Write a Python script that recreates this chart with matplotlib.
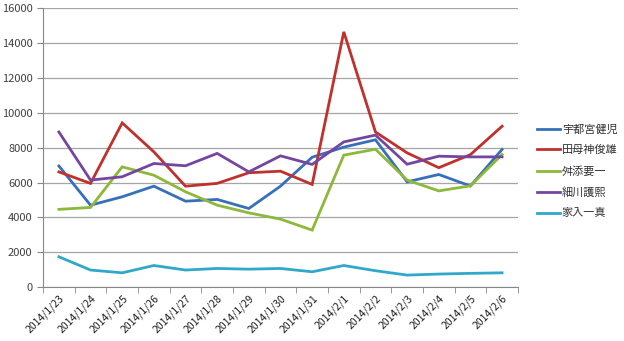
import matplotlib
matplotlib.use('Agg')
import numpy as np
from matplotlib import pyplot as plt
from matplotlib.ticker import FixedLocator, NullFormatter

plt.rcParams['font.family'] = ['Noto Sans CJK JP', 'DejaVu Sans']

dates = ['2014/1/23', '2014/1/24', '2014/1/25', '2014/1/26', '2014/1/27',
         '2014/1/28', '2014/1/29', '2014/1/30', '2014/1/31', '2014/2/1',
         '2014/2/2', '2014/2/3', '2014/2/4', '2014/2/5', '2014/2/6']
names = ['宇都宮健児', '田母神俊雄', '舛添要一', '細川護熙', '家入一真']

utsunomiya = [6950, 4700, 5180, 5790, 4930, 5030, 4510, 5790, 7450, 8030, 8450, 6040, 6460, 5800, 7900]
tamogami = [6610, 5950, 9420, 7760, 5790, 5950, 6560, 6650, 5890, 14640, 8900, 7700, 6850, 7600, 9230]
masuzoe = [4460, 4570, 6900, 6420, 5470, 4700, 4260, 3900, 3270, 7570, 7910, 6140, 5520, 5810, 7610]
hosokawa = [8900, 6140, 6330, 7090, 6960, 7670, 6610, 7530, 7040, 8330, 8720, 7050, 7510, 7470, 7470]
ieiri = [1740, 980, 820, 1240, 980, 1070, 1030, 1070, 880, 1240, 940, 690, 750, 790, 820]

series = [utsunomiya, tamogami, masuzoe, hosokawa, ieiri]
colors = ['#3670B8', '#C0302C', '#8DB83A', '#7446A0', '#30A8CA']

fig = plt.figure(figsize=(6.24, 3.41), dpi=100)
ax = fig.add_axes([0.069, 0.158, 0.761, 0.818])

x = np.arange(len(dates))
for vals, c, n in zip(series, colors, names):
    ax.plot(x, vals, color=c, lw=2.0, label=n, solid_joinstyle='miter')

ax.set_xlim(-0.5, len(dates) - 0.5)
ax.set_ylim(0, 16000)
ax.set_yticks(range(0, 16001, 2000))
ax.yaxis.grid(True, color='#A6A6A6', lw=0.9)
ax.set_axisbelow(True)

ax.set_xticks(x)
ax.set_xticklabels(dates, rotation=45, ha='right', rotation_mode='anchor', fontsize=7.5)
ax.xaxis.set_minor_locator(FixedLocator(np.arange(-0.5, len(dates), 1.0)))
ax.xaxis.set_minor_formatter(NullFormatter())
ax.tick_params(axis='x', which='major', length=0, pad=4)
ax.tick_params(axis='x', which='minor', length=4, color='#888888', direction='out')
ax.tick_params(axis='y', length=4, color='#888888', labelsize=8, labelcolor='#404040')
ax.tick_params(axis='x', labelcolor='#202020')

for s in ['top', 'right']:
    ax.spines[s].set_visible(False)
for s in ['left', 'bottom']:
    ax.spines[s].set_color('#888888')

leg = ax.legend(loc='center left', bbox_to_anchor=(1.0, 0.415), frameon=False,
                fontsize=8, handlelength=2.1, handletextpad=0.15, labelspacing=0.95,
                borderaxespad=1.3)
for t in leg.get_texts():
    t.set_color('#303030')

fig.savefig('out.png', dpi=100)
